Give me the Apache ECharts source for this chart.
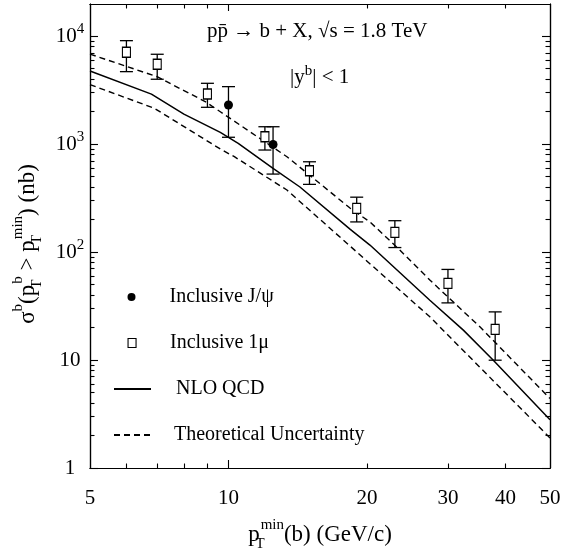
<!DOCTYPE html>
<html><head><meta charset="utf-8">
<script src="https://cdn.jsdelivr.net/npm/echarts@6/dist/echarts.min.js"></script>
<style>html,body{margin:0;padding:0;background:#fff}#c{width:576px;height:556px}</style>
</head><body><div id="c"></div>
<script>
// ---- data ----
const xTickValues = [5, 10, 20, 30, 40, 50];
const xTickLabels = ['5', '10', '20', '30', '40', '50'];
const xLongTicks = [10];
const xShortTicks = [6, 7, 8, 9, 20, 30, 40];
const yTickValues = [1, 10, 100, 1000, 10000];
const yTickLabels = ['1', '10', '10{sup|2}', '10{sup|3}', '10{sup|4}'];
const yShortTicks = [2, 3, 4, 5, 6, 7, 8, 9, 20, 30, 40, 50, 60, 70, 80, 90,
  200, 300, 400, 500, 600, 700, 800, 900, 2000, 3000, 4000, 5000, 6000, 7000, 8000, 9000];

const jpsiPt = [10, 12.5];
const jpsiSigma = [2300, 990];
const jpsiLow = [1155, 527];
const jpsiHigh = [3400, 1446];

const muPt = [6, 7, 9, 12, 15, 19, 23, 30, 38];
const muSigma = [7080, 5480, 2905, 1169, 566, 254, 152, 51.2, 19.2];
const muLow = [4680, 3980, 2188, 880, 423, 190, 110, 33.8, 9.96];
const muHigh = [9060, 6780, 3650, 1446, 685, 322, 195, 69, 27.9];

const nloPt = [5, 6.8, 8, 9.6, 10.5, 12.5, 14.3, 18.4, 20.3, 27.4, 32.4, 37.6, 50];
const nloSigma = [4750, 2900, 1890, 1280, 1015, 595, 400, 162, 116, 35.8, 18.9, 10, 2.8];
const upperPt = [5, 7, 8.9, 9.6, 13.4, 18.4, 20.3, 23.6, 27.4, 35.2, 50];
const upperSigma = [6800, 4200, 2470, 1990, 763, 254, 190, 104, 55, 20.3, 4.4];
const lowerPt = [5, 6.9, 9.6, 10.3, 13.4, 18.4, 27.4, 50];
const lowerSigma = [3550, 2143, 899, 763, 375, 113, 25.1, 1.9];

// ---- chart ----
const FONT = 'Liberation Serif';
const BLACK = '#000';
const pairs = (xs, ys) => xs.map((x, i) => [x, ys[i]]);
const triples = (xs, lo, hi) => xs.map((x, i) => [x, lo[i], hi[i]]);
const near = (arr, v) => arr.findIndex(t => Math.abs(v - t) / t < 1e-6);

function errorBar(params, api) {
  const x = api.value(0);
  const a = api.coord([x, api.value(1)]);
  const b = api.coord([x, api.value(2)]);
  const hw = 6.5;
  const st = { stroke: BLACK, lineWidth: 1.3 };
  return { type: 'group', children: [
    { type: 'line', shape: { x1: a[0], y1: a[1], x2: b[0], y2: b[1] }, style: st },
    { type: 'line', shape: { x1: a[0] - hw, y1: a[1], x2: a[0] + hw, y2: a[1] }, style: st },
    { type: 'line', shape: { x1: b[0] - hw, y1: b[1], x2: b[0] + hw, y2: b[1] }, style: st }
  ]};
}

const subsup = {
  sup: { fontFamily: FONT, fontSize: 15, color: BLACK, verticalAlign: 'top', lineHeight: 15 },
  ts: { fontFamily: FONT, fontSize: 15, color: BLACK, verticalAlign: 'bottom', lineHeight: 15, width: 1 }
};

const axisLineStyle = { show: true, lineStyle: { color: BLACK, width: 1.2 } };
function xAx(pos, ticks, len, labels, extra) {
  return Object.assign({
    type: 'log', logBase: 10, min: 5, max: 50, position: pos, gridIndex: 0,
    axisLine: axisLineStyle,
    axisTick: { show: true, inside: true, length: len, customValues: ticks, lineStyle: { color: BLACK, width: 1.1 } },
    axisLabel: labels ? {
      show: true, customValues: xTickValues, margin: 20,
      fontFamily: FONT, fontSize: 21, color: BLACK,
      formatter: v => { const i = near(xTickValues, v); return i >= 0 ? xTickLabels[i] : ''; }
    } : { show: false },
    splitLine: { show: false }, minorTick: { show: false }
  }, extra || {});
}
function yAx(pos, ticks, len, labels, extra) {
  return Object.assign({
    type: 'log', logBase: 10, min: 1, max: 19800, position: pos, gridIndex: 0,
    axisLine: axisLineStyle,
    axisTick: { show: true, inside: true, length: len, customValues: ticks, lineStyle: { color: BLACK, width: 1.1 } },
    axisLabel: labels ? {
      show: true, customValues: yTickValues, margin: 20, align: 'center',
      fontFamily: FONT, fontSize: 21, color: BLACK, lineHeight: 28,
      formatter: v => { const i = near(yTickValues, v); return i >= 0 ? yTickLabels[i] : ''; },
      rich: { sup: { fontFamily: FONT, fontSize: 15, color: BLACK, verticalAlign: 'top', lineHeight: 15 } }
    } : { show: false },
    splitLine: { show: false }, minorTick: { show: false }
  }, extra || {});
}

const nameStyle = { fontFamily: FONT, fontSize: 23, color: BLACK, lineHeight: 34, rich: subsup };

const legendText = pad => ({ fontFamily: FONT, fontSize: 20, color: BLACK, lineHeight: 24, padding: [0, 0, 0, pad] });
const legendBase = { orient: 'horizontal', padding: 0, selectedMode: false };
const hideSymbol = { color: 'rgba(0,0,0,0)', borderWidth: 0 };

const option = {
  animation: false,
  backgroundColor: '#fff',
  grid: { left: 90, right: 26, top: 4, bottom: 88, containLabel: false, outerBoundsMode: 'none' },
  title: [
    { text: 'pp\u0304 \u2192 b + X, \u221as = 1.8 TeV', left: 207, top: 21, padding: 0,
      textStyle: { fontFamily: FONT, fontSize: 21, fontWeight: 'normal', color: BLACK } },
    { text: '|y{sup|b}| < 1', left: 290, top: 64, padding: 0,
      textStyle: { fontFamily: FONT, fontSize: 21, fontWeight: 'normal', color: BLACK, lineHeight: 26,
        rich: { sup: { fontFamily: FONT, fontSize: 15, color: BLACK, verticalAlign: 'top', lineHeight: 15 } } } }
  ],
  legend: [
    Object.assign({}, legendBase, { left: 127.5, top: 285, itemWidth: 8, itemHeight: 8,
      data: [{ name: 'Inclusive J/\u03c8', icon: 'circle', itemStyle: { color: BLACK } }], textStyle: legendText(29) }),
    Object.assign({}, legendBase, { left: 127.5, top: 331, itemWidth: 8, itemHeight: 9,
      data: [{ name: 'Inclusive 1\u03bc', icon: 'rect', itemStyle: { color: '#fff', borderColor: BLACK, borderWidth: 1.1 } }], textStyle: legendText(29) }),
    Object.assign({}, legendBase, { left: 113, top: 377, itemWidth: 37, itemHeight: 14,
      data: [{ name: 'NLO QCD', itemStyle: hideSymbol }], textStyle: legendText(20) }),
    Object.assign({}, legendBase, { left: 113, top: 423, itemWidth: 37, itemHeight: 14,
      data: [{ name: 'Theoretical Uncertainty', itemStyle: hideSymbol }], textStyle: legendText(18) })
  ],
  xAxis: [
    xAx('bottom', xLongTicks, 8, true, {
      name: 'p{ts|T}{sup|min}(b) (GeV/c)', nameLocation: 'middle', nameGap: 50, nameTextStyle: nameStyle }),
    xAx('bottom', xShortTicks, 4.5, false),
    xAx('top', xLongTicks, 7, false),
    xAx('top', xShortTicks, 4.5, false)
  ],
  yAxis: [
    yAx('left', yTickValues, 8, true, {
      name: '\u03c3{sup|b}(p{ts|T}{sup|b} > p{ts|T}{sup|min}) (nb)', nameLocation: 'middle', nameRotate: 90,
      nameGap: 43, nameTextStyle: Object.assign({}, nameStyle, { padding: [0, 16, 0, 0] }) }),
    yAx('left', yShortTicks, 4.5, false),
    yAx('right', yTickValues, 8, false),
    yAx('right', yShortTicks, 4.5, false)
  ],
  series: [
    { name: 'NLO QCD', type: 'line', data: pairs(nloPt, nloSigma), symbol: 'none', z: 1,
      lineStyle: { color: BLACK, width: 1.5, type: 'solid' }, itemStyle: { color: BLACK } },
    { name: 'Theoretical Uncertainty', type: 'line', data: pairs(upperPt, upperSigma), symbol: 'none', z: 1,
      lineStyle: { color: BLACK, width: 1.4, type: [6, 4] }, itemStyle: { color: BLACK } },
    { name: 'Theoretical Uncertainty', type: 'line', data: pairs(lowerPt, lowerSigma), symbol: 'none', z: 1,
      lineStyle: { color: BLACK, width: 1.4, type: [6, 4] }, itemStyle: { color: BLACK } },
    { name: 'err-mu', type: 'custom', renderItem: errorBar, data: triples(muPt, muLow, muHigh),
      encode: { x: 0, y: [1, 2] }, z: 2, silent: true },
    { name: 'err-jpsi', type: 'custom', renderItem: errorBar, data: triples(jpsiPt, jpsiLow, jpsiHigh),
      encode: { x: 0, y: [1, 2] }, z: 2, silent: true },
    { name: 'Inclusive 1\u03bc', type: 'scatter', data: pairs(muPt, muSigma), symbol: 'rect', symbolSize: [8, 10], z: 3,
      itemStyle: { color: '#fff', borderColor: BLACK, borderWidth: 1.2, opacity: 1 } },
    { name: 'Inclusive J/\u03c8', type: 'scatter', data: pairs(jpsiPt, jpsiSigma), symbol: 'circle', symbolSize: 9, z: 3,
      itemStyle: { color: BLACK, opacity: 1 } }
  ]
};

const chart = echarts.init(document.getElementById('c'), null, { renderer: 'canvas' });
chart.setOption(option);
</script>
</body></html>
